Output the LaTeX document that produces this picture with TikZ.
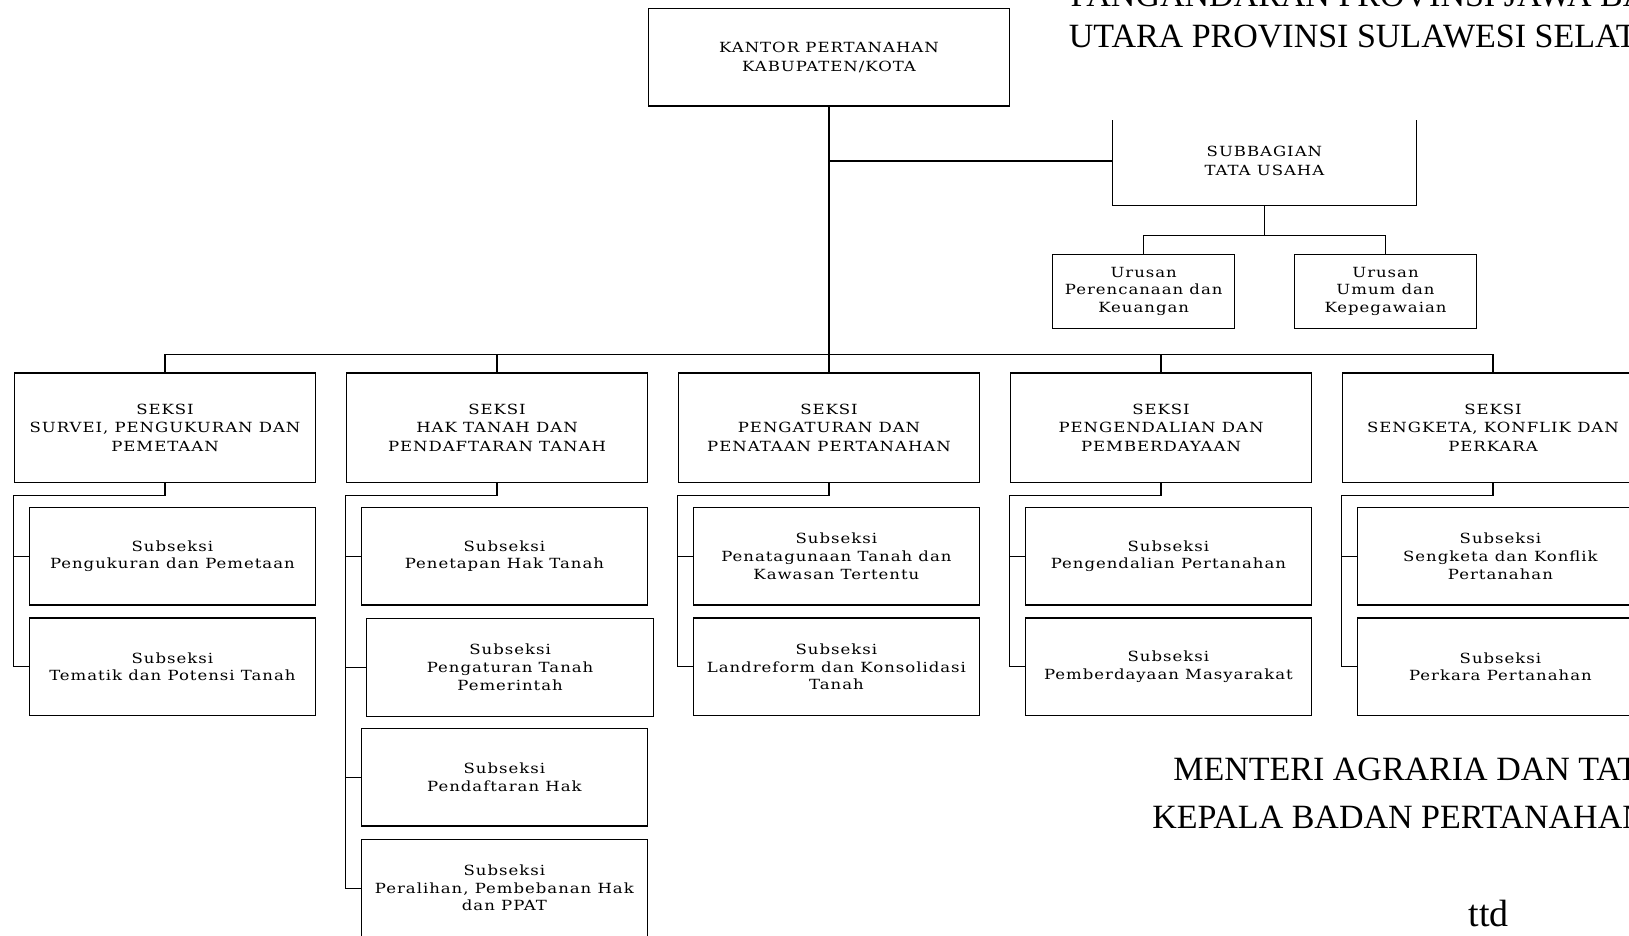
\documentclass[tikz,border=0pt]{standalone}
\usepackage{fontspec}
\setmainfont{Liberation Serif}
\newfontfamily\boxfont[FakeStretch=1.18, LetterSpace=7]{DejaVu Serif}
\tikzset{unit/.style = {draw, rectangle, inner sep = 0, align = center}}
\tikzset{kantorbox/.style = {unit, minimum width = 361.5pt, minimum height = 97.7pt,
    font = {\boxfont\fontsize{14}{19}\selectfont}}}
\tikzset{tubox/.style = {rectangle, inner sep = 0, align = center, minimum width = 302.6pt,
    minimum height = 88pt, font = {\boxfont\fontsize{14}{18.7}\selectfont}}}
\tikzset{urbox/.style = {unit, minimum width = 182pt, minimum height = 74pt,
    font = {\boxfont\fontsize{14}{17.4}\selectfont}}}
\tikzset{seksibox/.style = {unit, minimum width = 301.3pt, minimum height = 109.5pt,
    font = {\boxfont\fontsize{14}{18.3}\selectfont}}}
\tikzset{subbox/.style = {unit, minimum width = 286.5pt, minimum height = 97.5pt,
    font = {\boxfont\fontsize{14}{17.6}\selectfont}}}
\tikzset{header/.style = {anchor = base west, inner sep = 0, font = \fontsize{34}{40}\selectfont}}

\begin{document}
\begin{tikzpicture}[x=1pt, y=-1pt, line width=1.2pt]
      \useasboundingbox (0, 0) rectangle (1629, 935);
      \clip (0, 0) rectangle (1629, 935);
      \node [header] (prov1) at (1070, 6.7) {PANGANDARAN PROVINSI JAWA BA};
      \node [header] (prov2) at (1068.3, 47.7) {UTARA PROVINSI SULAWESI SELAT};
      \node [kantorbox] (kantor) at (829, 57.15) {KANTOR PERTANAHAN\\KABUPATEN/KOTA};
      \node [tubox] (tu) at (1264.4, 161) {SUBBAGIAN\\TATA USAHA};
      \draw ([yshift=-4pt]tu.north west) -- (tu.south west) -- (tu.south east)
      -- ([yshift=-4pt]tu.north east);
      \node [urbox] (urA) at (1143.7, 291.3) {Urusan\\Perencanaan dan\\Keuangan};
      \node [urbox] (urB) at (1385.5, 291.3) {Urusan\\Umum dan\\Kepegawaian};
      \coordinate (urbus) at (1264.4, 235.7);
      \coordinate (bus) at (829, 354.3);
      \node [seksibox] (seksi1) at (165, 427.75) {SEKSI\\SURVEI, PENGUKURAN DAN\\PEMETAAN};
      \node [seksibox] (seksi2) at (497, 427.75) {SEKSI\\HAK TANAH DAN\\PENDAFTARAN TANAH};
      \node [seksibox] (seksi3) at (829, 427.75) {SEKSI\\PENGATURAN DAN\\PENATAAN PERTANAHAN};
      \node [seksibox] (seksi4) at (1161, 427.75) {SEKSI\\PENGENDALIAN DAN\\PEMBERDAYAAN};
      \node [seksibox] (seksi5) at (1493, 427.75) {SEKSI\\SENGKETA, KONFLIK DAN\\PERKARA};
      \node [subbox] (sub11) at (172.4, 556.25) {Subseksi\\Pengukuran dan Pemetaan};
      \node [subbox] (sub12) at (172.4, 666.8) {Subseksi\\Tematik dan Potensi Tanah};
      \node [subbox] (sub21) at (504.4, 556.25) {Subseksi\\Penetapan Hak Tanah};
      \node [subbox] (sub22) at (510.1, 667.35) {Subseksi\\Pengaturan Tanah\\Pemerintah};
      \node [subbox] (sub23) at (504.4, 777.15) {Subseksi\\Pendaftaran Hak};
      \node [subbox] (sub24) at (504.4, 888.15) {Subseksi\\Peralihan, Pembebanan Hak\\dan PPAT};
      \node [subbox] (sub31) at (836.4, 556.25) {Subseksi\\Penatagunaan Tanah dan\\Kawasan Tertentu};
      \node [subbox] (sub32) at (836.4, 666.8) {Subseksi\\Landreform dan Konsolidasi\\Tanah};
      \node [subbox] (sub41) at (1168.4, 556.25) {Subseksi\\Pengendalian Pertanahan};
      \node [subbox] (sub42) at (1168.4, 666.8) {Subseksi\\Pemberdayaan Masyarakat};
      \node [subbox] (sub51) at (1500.4, 556.25) {Subseksi\\Sengketa dan Konflik\\Pertanahan};
      \node [subbox] (sub52) at (1500.4, 666.8) {Subseksi\\Perkara Pertanahan};
      \draw (kantor.south) -- (seksi3.north);
      \draw (kantor.south |- tu.west) -- (tu.west);
      \draw (tu.south) -- (urbus);
      \draw (urA.north) |- (urbus) -| (urB.north);
      \draw (seksi1.north) |- (bus) -| (seksi5.north);
      \draw (seksi2.north) -- (seksi2.north |- bus);
      \draw (seksi4.north) -- (seksi4.north |- bus);
      \draw (seksi1.south) -- ++(0, 12.5) -| (seksi1.west |- sub12.west) -- (sub12.west);
      \draw (seksi1.west |- sub11.west) -- (sub11.west);
      \draw (seksi2.south) -- ++(0, 12.5) -| (seksi2.west |- sub24.west) -- (sub24.west);
      \draw (seksi2.west |- sub21.west) -- (sub21.west);
      \draw (seksi2.west |- sub22.west) -- (sub22.west);
      \draw (seksi2.west |- sub23.west) -- (sub23.west);
      \draw (seksi3.south) -- ++(0, 12.5) -| (seksi3.west |- sub32.west) -- (sub32.west);
      \draw (seksi3.west |- sub31.west) -- (sub31.west);
      \draw (seksi4.south) -- ++(0, 12.5) -| (seksi4.west |- sub42.west) -- (sub42.west);
      \draw (seksi4.west |- sub41.west) -- (sub41.west);
      \draw (seksi5.south) -- ++(0, 12.5) -| (seksi5.west |- sub52.west) -- (sub52.west);
      \draw (seksi5.west |- sub51.west) -- (sub51.west);
      \node [header] (menteri) at (1172.7, 780) {MENTERI AGRARIA DAN TAT};
      \node [header] (kepala) at (1151.7, 828.3) {KEPALA BADAN PERTANAHAN};
      \node [header, font = \fontsize{38}{44}\selectfont] (ttd) at (1468, 926) {ttd};
    \end{tikzpicture}
\end{document}
